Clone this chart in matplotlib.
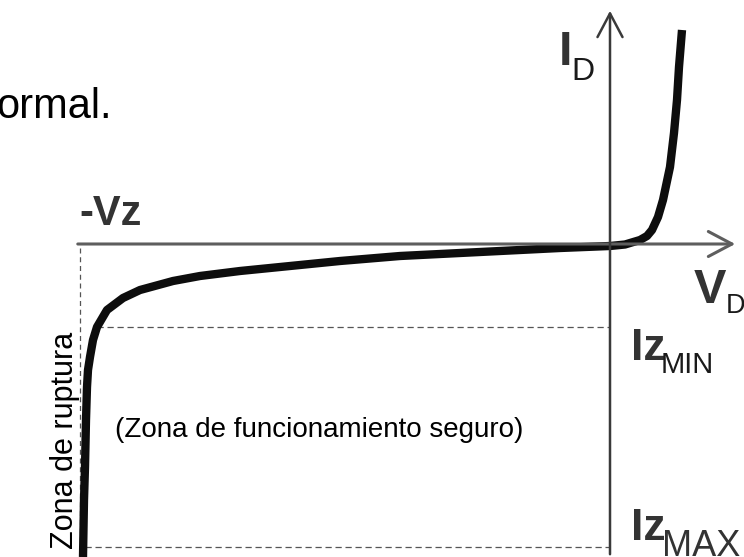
import matplotlib
matplotlib.use('Agg')
import matplotlib.pyplot as plt

# Zener diode I-V characteristic (arbitrary units)
curve_v = [-5.27, -5.26, -5.25, -5.24, -5.23, -5.22, -5.20, -5.17, -5.13, -5.03,
           -4.87, -4.70, -4.37, -4.10, -3.70, -3.10, -2.70, -2.10, -1.10, -0.50,
           0.00, 0.15, 0.30, 0.37, 0.42, 0.48, 0.53, 0.60, 0.64, 0.67, 0.69, 0.72]
curve_i = [-3.13, -2.56, -2.23, -1.76, -1.43, -1.26, -1.13, -0.96, -0.83, -0.66,
           -0.54, -0.46, -0.37, -0.32, -0.27, -0.21, -0.17, -0.12, -0.07, -0.04,
           -0.02, -0.005, 0.04, 0.08, 0.14, 0.27, 0.44, 0.77, 1.11, 1.44, 1.77, 2.14]

vz = -5.30        # breakdown voltage marker
iz_min = -0.83
iz_max = -3.03
iz_min_v = -5.13  # where the curve meets Iz_min
iz_max_v = -5.25

font = ['Liberation Sans', 'DejaVu Sans']

fig = plt.figure(figsize=(7.44, 5.57), dpi=100)
ax = fig.add_axes([0, 0, 1, 1])
ax.set_xlim(-6.10, 1.34)
ax.set_ylim(-3.13, 2.44)
ax.axis('off')

# axes with open arrowheads
ax.annotate('', xy=(1.28, 0.0), xytext=(-5.35, 0.0),
            arrowprops=dict(arrowstyle='->, head_length=0.85, head_width=0.45',
                            color='#5e5e5e', lw=2.2, mutation_scale=20))
ax.annotate('', xy=(0.0, 2.36), xytext=(0.0, -3.13),
            arrowprops=dict(arrowstyle='->, head_length=0.85, head_width=0.45',
                            color='#3a3a3a', lw=1.8, mutation_scale=20))

# dashed guide lines
ax.plot([vz, vz], [-0.04, -3.13], ls=(0, (4, 3)), color='#555555', lw=0.9)
ax.plot([iz_min_v, 0.0], [iz_min, iz_min], ls=(0, (5, 3)), color='#555555', lw=0.9)
ax.plot([iz_max_v, 0.0], [iz_max, iz_max], ls=(0, (5, 3)), color='#555555', lw=0.9)

# characteristic curve
ax.plot(curve_v, curve_i, color='#0d0d0d', lw=6.0, solid_capstyle='butt',
        solid_joinstyle='round')

# labels
ax.text(-4.98, 1.26, 'ormal.', fontsize=30, family=font, color='black',
        ha='right', va='baseline')
ax.text(-5.31, 0.19, '-Vz', fontsize=30, family=font, weight='bold',
        color='#333333', ha='left', va='baseline')
ax.text(-0.45, 1.79, 'I', fontsize=35, family=font, weight='bold',
        color='#333333', ha='center', va='baseline')
ax.text(-0.39, 1.64, 'D', fontsize=23, family=font, color='#1a1a1a',
        ha='left', va='baseline')
ax.text(0.84, -0.59, 'V', fontsize=35, family=font, weight='bold',
        color='#333333', ha='left', va='baseline')
ax.text(1.16, -0.69, 'D', fontsize=19.5, family=font, color='#1a1a1a',
        ha='left', va='baseline')
ax.text(0.21, -1.16, 'Iz', fontsize=32, family=font, weight='bold',
        color='#333333', ha='left', va='baseline')
ax.text(0.51, -1.29, 'MIN', fontsize=21, family=font, color='#1a1a1a',
        ha='left', va='baseline')
ax.text(0.21, -2.96, 'Iz', fontsize=32, family=font, weight='bold',
        color='#333333', ha='left', va='baseline')
ax.text(0.52, -3.12, 'MAX', fontsize=26, family=font, color='#333333',
        ha='left', va='baseline')

ax.text(-2.91, -1.93, '(Zona de funcionamiento seguro)', fontsize=20,
        family=font, color='black', ha='center', va='baseline')
ax.text(-5.37, -1.96, 'Zona de ruptura', fontsize=22, family=font,
        color='black', rotation=90, rotation_mode='anchor',
        ha='center', va='baseline')

fig.savefig('out.png', dpi=100, facecolor='white')
